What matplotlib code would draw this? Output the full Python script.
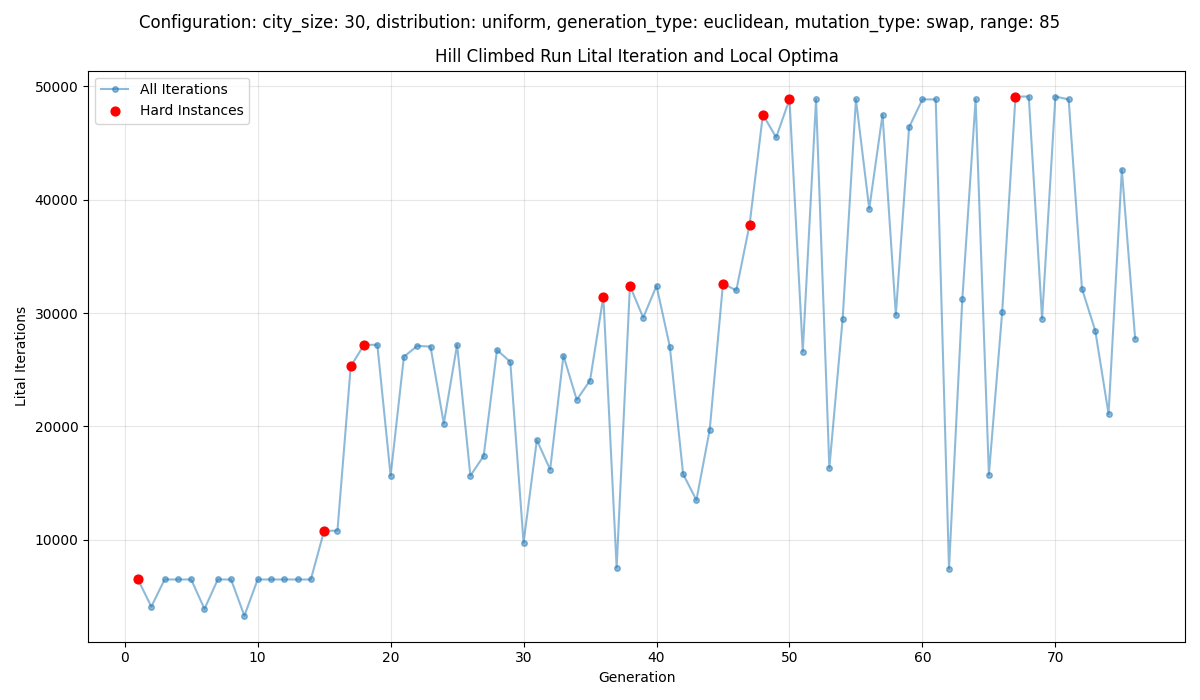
import matplotlib
matplotlib.use("Agg")
import matplotlib.pyplot as plt

generations = list(range(1, 77))
iterations = [6500, 4100, 6500, 6500, 6500, 3900, 6500, 6500, 3300, 6500,
              6500, 6500, 6500, 6500, 10800, 10800, 25300, 27200, 27200, 15650,
              26150, 27100, 27050, 20250, 27200, 15650, 17400, 26750, 25700, 9750,
              18800, 16200, 26250, 22350, 24050, 31450, 7550, 32400, 29600, 32400,
              27050, 15800, 13500, 19700, 32600, 32000, 37800, 47500, 45500, 48850,
              26600, 48850, 16350, 29500, 48850, 39200, 47500, 29850, 46400, 48850,
              48850, 7450, 31200, 48850, 15750, 30100, 49100, 49100, 29500, 49100,
              48850, 32150, 28450, 21100, 42650, 27750]
hard_gens = [1, 15, 17, 18, 36, 38, 45, 47, 48, 50, 67]
hard_vals = [iterations[g - 1] for g in hard_gens]

fig, ax = plt.subplots(figsize=(12, 7), dpi=100)
ax.plot(generations, iterations, '-o', color='tab:blue', alpha=0.5, markersize=4, label='All Iterations')
ax.scatter(hard_gens, hard_vals, color='red', s=40, zorder=3, label='Hard Instances')
ax.set_xlabel('Generation')
ax.set_ylabel('Lital Iterations')
ax.set_title('Hill Climbed Run Lital Iteration and Local Optima')
fig.suptitle('Configuration: city_size: 30, distribution: uniform, generation_type: euclidean, mutation_type: swap, range: 85', fontsize=12)
ax.grid(True, alpha=0.3)
ax.legend(loc='upper left')
fig.tight_layout()
fig.savefig('out.png')
